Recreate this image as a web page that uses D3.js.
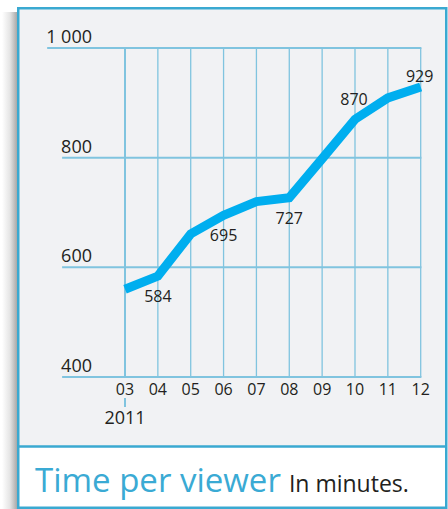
<!DOCTYPE html>
<html><head><meta charset="utf-8">
<script src="https://cdn.jsdelivr.net/npm/d3@7"></script>
<style>
html,body{margin:0;padding:0;background:#fff;}
svg{display:block;}
text{font-family:"Open Sans",sans-serif;}
</style></head>
<body>
<script>
const months = ["03","04","05","06","07","08","09","10","11","12"];
const monthNums = [3,4,5,6,7,8,9,10,11,12];
const values = [560,584,661,695,720,727,798,870,909,929];
const yTicks = [400,600,800,1000];
const yTickLabels = ["400","600","800","1 000"];
const yearLabel = "2011";
const labelled = [
  {month:4, value:584, pos:"below"},
  {month:6, value:695, pos:"below"},
  {month:8, value:727, pos:"below"},
  {month:10, value:870, pos:"aboveLeft"},
  {month:12, value:929, pos:"above"}
];
const titleMain = "Time per viewer";
const titleSub = "In minutes.";

const W = 448, H = 509;
const svg = d3.select("body").append("svg").attr("width", W).attr("height", H);
const defs = svg.append("defs");
const grad = defs.append("linearGradient").attr("id","shadow").attr("x1","0").attr("x2","1");
grad.append("stop").attr("offset","0").attr("stop-color","#ffffff");
grad.append("stop").attr("offset","0.5").attr("stop-color","#e4e4e4");
grad.append("stop").attr("offset","1").attr("stop-color","#a0a0a0");

// shadow on left
svg.append("rect").attr("x",2).attr("y",12).attr("width",16).attr("height",H-12).attr("fill","url(#shadow)");

// box
const border = "#3aa9d1";
svg.append("rect").attr("x",18.25).attr("y",8.25).attr("width",428.5).attr("height",439)
  .attr("fill","#f1f2f4");
svg.append("rect").attr("x",18.25).attr("y",447).attr("width",428.5).attr("height",61)
  .attr("fill","#ffffff");
svg.append("rect").attr("x",18.25).attr("y",8.25).attr("width",428).attr("height",499.5)
  .attr("fill","none").attr("stroke",border).attr("stroke-width",2.5);
svg.append("line").attr("x1",18).attr("x2",447).attr("y1",446.5).attr("y2",446.5)
  .attr("stroke",border).attr("stroke-width",2.5);

const x = d3.scaleLinear().domain([3,12]).range([125,420.7]);
const y = d3.scaleLinear().domain([400,1000]).range([377,48]);
const grid = "#80c4df";
const g = svg.append("g");

// vertical grid
g.selectAll("line.v").data(monthNums).join("line")
  .attr("x1", d=>x(d)).attr("x2", d=>x(d))
  .attr("y1", y(1000)).attr("y2", y(400))
  .attr("stroke", grid).attr("stroke-width", (d,i)=> i===0 ? 2 : 1.3);

// y tick labels + horizontal lines starting at label left edge
yTicks.forEach((t,i)=>{
  const lab = g.append("text").attr("x",92).attr("y",y(t)-5)
    .attr("text-anchor","end").attr("font-size",18).attr("fill","#231f20")
    .text(yTickLabels[i]);
  const bb = lab.node().getBBox();
  g.append("line").attr("x1",bb.x+1).attr("x2",x(12)+0.7)
    .attr("y1",y(t)).attr("y2",y(t)).attr("stroke",grid).attr("stroke-width",2);
});

// month labels
g.selectAll("text.m").data(months).join("text")
  .attr("x",(d,i)=>x(monthNums[i])).attr("y",395)
  .attr("text-anchor","middle").attr("font-size",16).attr("fill","#231f20")
  .text(d=>d);
g.append("line").attr("x1",x(3)).attr("x2",x(3)).attr("y1",398).attr("y2",407)
  .attr("stroke",grid).attr("stroke-width",2);
g.append("text").attr("x",x(3)).attr("y",424).attr("text-anchor","middle")
  .attr("font-size",18).attr("fill","#231f20").text(yearLabel);

// data line
const line = d3.line().x((d,i)=>x(monthNums[i])).y(d=>y(d));
g.append("path").datum(values).attr("d",line).attr("fill","none")
  .attr("stroke","#00aeef").attr("stroke-width",9).attr("stroke-linejoin","miter")
  .attr("stroke-linecap","butt");

// value labels
labelled.forEach(l=>{
  let dx=0, dy=26;
  if(l.pos==="aboveLeft"){dx=-1; dy=-14;}
  if(l.pos==="above"){dx=-1; dy=-5;}
  g.append("text").attr("x",x(l.month)+dx).attr("y",y(l.value)+dy)
    .attr("text-anchor","middle").attr("font-size",16).attr("fill","#231f20")
    .text(l.value);
});

// title
const t = svg.append("text").attr("x",35).attr("y",492);
t.append("tspan").attr("font-size",33).attr("fill","#3aaad4").text(titleMain);
t.append("tspan").attr("font-size",23).attr("fill","#231f20").attr("dx",8).text(titleSub);
</script>
</body></html>
